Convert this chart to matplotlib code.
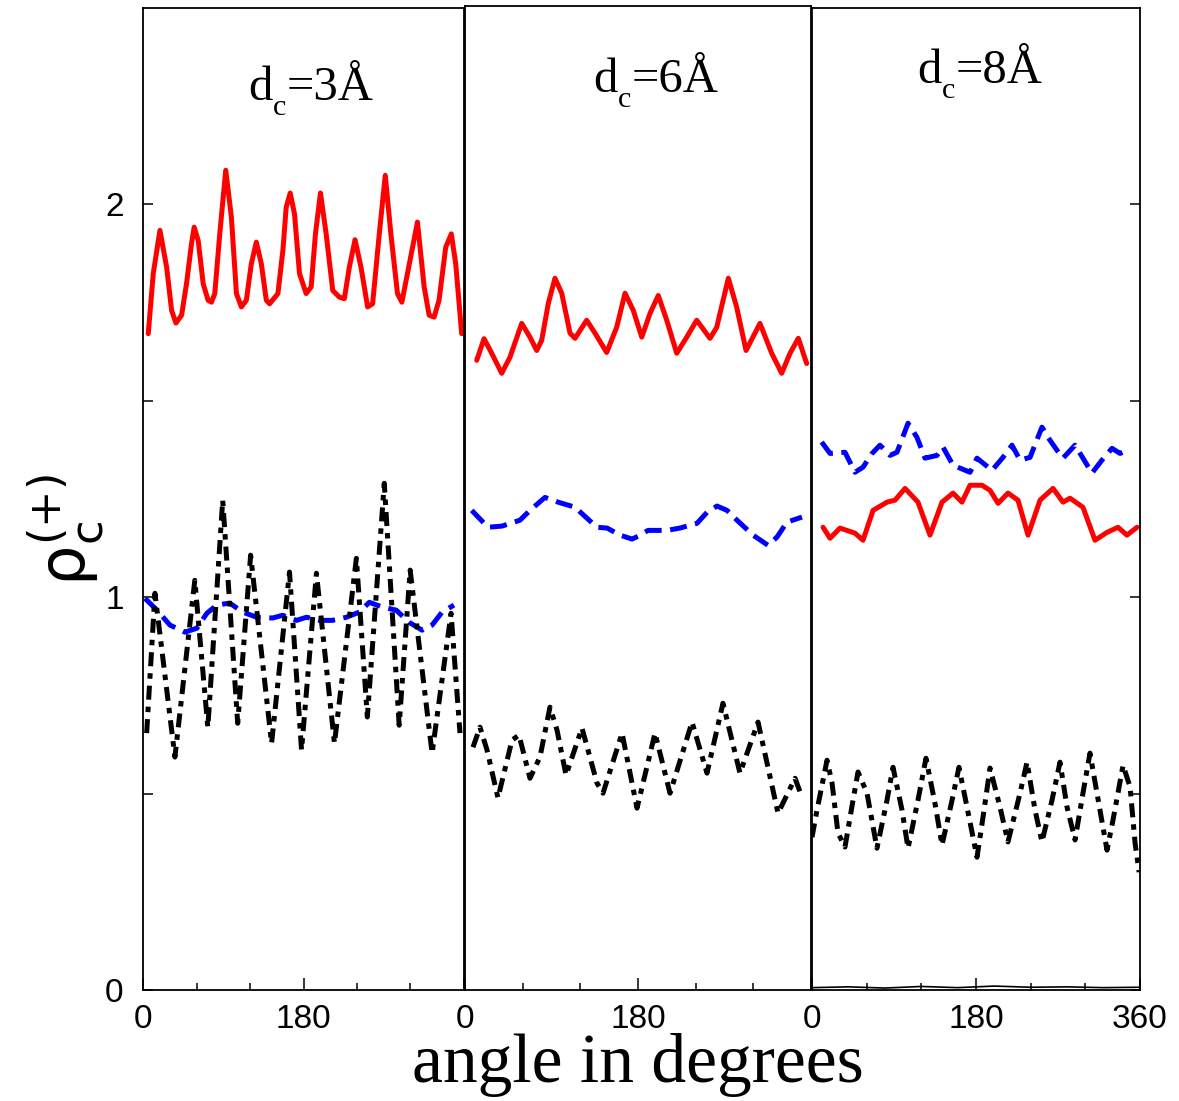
import matplotlib
matplotlib.use("Agg")
import matplotlib.pyplot as plt
from matplotlib.ticker import FixedLocator
from matplotlib.transforms import IdentityTransform

plt.rcParams['mathtext.fontset'] = 'custom'
plt.rcParams['mathtext.rm'] = 'Liberation Serif'
plt.rcParams['mathtext.it'] = 'Liberation Serif:italic'
plt.rcParams['mathtext.sf'] = 'DejaVu Sans'

# ---------------- data (angle in degrees, rho) ----------------
# Panel 1: d_c = 3 A
p1_red_x = [5.9, 11.5, 19.0, 26.5, 32.1, 36.9, 43.3, 48.8, 54.4, 57.4, 61.9, 67.5, 73.0, 76.8, 80.5,
            86.1, 92.8, 99.1, 104.8, 110.3, 115.9, 121.5, 127.1, 132.7, 138.3, 142.0, 151.3, 156.9,
            160.6, 165.1, 169.9, 175.5, 183.0, 188.6, 193.4, 199.0, 205.4, 212.8, 220.2, 225.8,
            231.4, 237.8, 244.5, 251.9, 257.5, 265.0, 271.7, 278.0, 285.4, 290.3, 296.6, 307.8,
            315.3, 320.9, 326.5, 332.0, 339.5, 345.8, 350.7, 357.4]
p1_red_y = [1.671, 1.824, 1.934, 1.840, 1.730, 1.698, 1.718, 1.798, 1.900, 1.942, 1.908, 1.798,
            1.756, 1.751, 1.773, 1.925, 2.087, 1.968, 1.773, 1.739, 1.756, 1.849, 1.904, 1.849,
            1.756, 1.747, 1.773, 1.883, 1.993, 2.029, 1.976, 1.824, 1.773, 1.790, 1.925, 2.029,
            1.925, 1.781, 1.764, 1.760, 1.840, 1.910, 1.840, 1.739, 1.747, 1.925, 2.074, 1.925,
            1.773, 1.751, 1.824, 1.955, 1.790, 1.718, 1.713, 1.756, 1.891, 1.925, 1.849, 1.671]

p1_blue_x = [2.2, 15.7, 30.2, 47.0, 60.4, 71.6, 82.7, 97.3, 111.8, 127.5, 145.3, 156.5, 172.2, 183.4,
             197.9, 212.4, 228.1, 242.6, 253.8, 268.3, 284.0, 298.5, 313.0, 324.2, 335.4, 348.8]
p1_blue_y = [0.997, 0.967, 0.929, 0.911, 0.921, 0.959, 0.980, 0.985, 0.962, 0.949, 0.947, 0.954,
             0.941, 0.949, 0.941, 0.941, 0.949, 0.962, 0.987, 0.975, 0.967, 0.936, 0.916, 0.929,
             0.962, 0.980]

p1_black_x = [4.1, 13.4, 35.8, 58.1, 72.7, 89.4, 106.2, 120.7, 144.2, 164.3, 177.8, 194.5, 214.7,
              239.3, 251.6, 270.6, 287.3, 299.6, 324.2, 345.5, 355.5]
p1_black_y = [0.654, 1.01, 0.593, 1.043, 0.669, 1.247, 0.679, 1.107, 0.628, 1.064, 0.611, 1.061,
              0.628, 1.099, 0.695, 1.29, 0.674, 1.069, 0.603, 0.959, 0.654]

# Panel 2: d_c = 6 A
p2_red_x = [12.2, 19.8, 27.8, 38.2, 46.8, 59.0, 67.6, 74.6, 79.8, 86.7, 93.6, 100.6, 109.3, 114.5,
            126.6, 135.3, 147.4, 157.8, 166.5, 175.1, 183.9, 192.6, 201.1, 209.9, 220.3, 230.7,
            241.1, 254.9, 261.9, 274.0, 282.7, 292.4, 306.9, 319.1, 329.5, 338.2, 346.8, 355.5]
p2_red_y = [1.603, 1.658, 1.621, 1.570, 1.611, 1.697, 1.662, 1.628, 1.654, 1.748, 1.812, 1.774,
            1.672, 1.659, 1.705, 1.672, 1.623, 1.687, 1.774, 1.730, 1.662, 1.723, 1.768, 1.705,
            1.621, 1.662, 1.705, 1.659, 1.687, 1.812, 1.738, 1.628, 1.697, 1.621, 1.570, 1.621,
            1.659, 1.595]

p2_blue_x = [7.0, 23.9, 38.5, 57.2, 67.6, 83.2, 96.8, 114.5, 126.9, 137.3, 147.8, 161.3, 173.8,
             180.0, 190.4, 210.2, 223.7, 241.4, 251.8, 262.2, 272.6, 283.0, 299.7, 315.3, 324.6,
             335.0, 350.6]
p2_blue_y = [1.221, 1.178, 1.181, 1.196, 1.221, 1.254, 1.242, 1.229, 1.201, 1.178, 1.176, 1.158,
             1.148, 1.155, 1.170, 1.170, 1.176, 1.188, 1.216, 1.232, 1.221, 1.196, 1.158, 1.132,
             1.153, 1.191, 1.204]

p2_black_x = [8.3, 15.6, 22.9, 34.3, 48.9, 56.2, 67.6, 78.0, 88.4, 95.7, 105.1, 121.7, 137.3, 143.6,
              163.4, 179.0, 197.7, 213.3, 236.2, 251.8, 268.4, 286.1, 304.9, 325.7, 343.4, 350.6]
p2_black_y = [0.618, 0.669, 0.611, 0.489, 0.636, 0.649, 0.539, 0.593, 0.720, 0.662, 0.547, 0.667,
              0.527, 0.501, 0.654, 0.463, 0.654, 0.501, 0.682, 0.552, 0.730, 0.552, 0.682, 0.450,
              0.539, 0.491]

# Panel 3: d_c = 8 A
p3_red_x = [12.1, 19.8, 30.7, 47.2, 56.0, 67.0, 82.3, 91.1, 102.1, 116.3, 129.5, 142.7, 154.8,
            164.6, 173.4, 186.6, 195.4, 204.2, 215.1, 226.1, 237.1, 250.3, 264.5, 275.5, 283.2,
            297.4, 310.6, 323.8, 335.9, 345.7, 356.7]
p3_red_y = [1.178, 1.150, 1.176, 1.163, 1.145, 1.221, 1.242, 1.247, 1.277, 1.242, 1.158, 1.242,
            1.265, 1.242, 1.285, 1.285, 1.272, 1.239, 1.265, 1.247, 1.158, 1.247, 1.277, 1.242,
            1.252, 1.229, 1.145, 1.165, 1.178, 1.158, 1.178]

p3_blue_x = [10.6, 19.8, 36.2, 47.2, 56.0, 65.9, 74.6, 85.6, 93.3, 105.4, 115.2, 124.0, 137.2,
             143.8, 154.8, 173.4, 181.1, 197.6, 209.6, 219.5, 228.3, 239.3, 252.4, 259.0, 268.9,
             275.5, 288.7, 297.4, 307.3, 318.3, 329.3, 338.1, 346.8]
p3_blue_y = [1.395, 1.366, 1.369, 1.318, 1.331, 1.366, 1.387, 1.361, 1.369, 1.443, 1.407, 1.354,
             1.361, 1.382, 1.336, 1.318, 1.354, 1.323, 1.356, 1.387, 1.349, 1.356, 1.433, 1.407,
             1.374, 1.354, 1.387, 1.354, 1.316, 1.349, 1.379, 1.366, 1.374]

p3_black_x = [0.0, 5.5, 16.5, 22.0, 28.5, 36.2, 45.0, 50.5, 60.4, 71.3, 82.3, 88.9, 98.8, 105.4,
              116.3, 125.1, 135.0, 142.7, 153.7, 161.3, 170.1, 181.1, 187.7, 195.4, 206.3, 215.1,
              228.3, 236.0, 244.8, 252.4, 263.4, 272.2, 279.9, 288.7, 297.4, 305.1, 312.8, 323.8,
              330.4, 341.4, 349.1, 354.6, 359.0]
p3_black_y = [0.389, 0.458, 0.585, 0.527, 0.400, 0.364, 0.483, 0.555, 0.501, 0.361, 0.483, 0.567,
              0.458, 0.361, 0.483, 0.590, 0.475, 0.369, 0.483, 0.567, 0.466, 0.338, 0.440, 0.565,
              0.466, 0.377, 0.501, 0.580, 0.458, 0.377, 0.483, 0.580, 0.466, 0.382, 0.501, 0.603,
              0.501, 0.356, 0.433, 0.572, 0.517, 0.374, 0.300]

p3_base_x = [0, 40, 80, 120, 160, 200, 240, 280, 320, 360]
p3_base_y = [0.006, 0.008, 0.005, 0.009, 0.006, 0.010, 0.007, 0.008, 0.006, 0.007]

titles = ["3", "6", "8"]
xticklabels = [["0", "180", ""], ["0", "180", ""], ["0", "180", "360"]]
yticks = [0, 1, 2]

# ---------------- figure ----------------
W, H = 1179, 1101
fig = plt.figure(figsize=(W / 100, H / 100), dpi=100)
renderer = fig.canvas.get_renderer()

def ax_rect(left, right, top, bottom=990):
    return [left / W, (H - bottom) / H, (right - left) / W, (bottom - top) / H]

axes = [fig.add_axes(ax_rect(143, 464, 8)),
        fig.add_axes(ax_rect(465, 811, 6)),
        fig.add_axes(ax_rect(812, 1140, 8))]
ytops = [2.5, 2.505, 2.5]

red_kw = dict(color='#ff0000', lw=3.6, solid_capstyle='round', solid_joinstyle='round')
blue_kw = dict(color='#0000ff', lw=3.6, dashes=(3.4, 1.7), dash_capstyle='butt',
               dash_joinstyle='round')
black_kw = dict(color='black', lw=3.6, dashes=(2.8, 1.4, 1.1, 1.4), dash_capstyle='butt',
                dash_joinstyle='round')

series = [
    (p1_red_x, p1_red_y, p1_blue_x, p1_blue_y, p1_black_x, p1_black_y),
    (p2_red_x, p2_red_y, p2_blue_x, p2_blue_y, p2_black_x, p2_black_y),
    (p3_red_x, p3_red_y, p3_blue_x, p3_blue_y, p3_black_x, p3_black_y),
]

for i, ax in enumerate(axes):
    rx, ry, bx, by, kx, ky = series[i]
    ax.plot(rx, ry, **red_kw)
    ax.plot(bx, by, **blue_kw)
    ax.plot(kx, ky, **black_kw)
    if i == 2:
        ax.plot(p3_base_x, p3_base_y, color='black', lw=1.2)
    ax.set_xlim(0, 360)
    ax.set_ylim(0, ytops[i])
    for s in ax.spines.values():
        s.set_linewidth(1.3)
        s.set_color('black')
    ax.xaxis.set_major_locator(FixedLocator([0, 180, 360]))
    ax.xaxis.set_minor_locator(FixedLocator([60, 120, 240, 300]))
    ax.set_xticklabels(xticklabels[i], fontfamily='Liberation Sans', fontsize=24)
    ax.tick_params(axis='x', which='major', direction='in', length=9, width=1.1, pad=10,
                   top=False, bottom=True)
    ax.tick_params(axis='x', which='minor', direction='in', length=5, width=1.1,
                   top=False, bottom=True)
    ax.yaxis.set_major_locator(FixedLocator([0, 1, 2]))
    ax.yaxis.set_minor_locator(FixedLocator([0.5, 1.5]))
    if i == 0:
        ax.set_yticklabels([str(v) for v in yticks], fontfamily='Liberation Sans', fontsize=24)
        ax.tick_params(axis='y', which='both', direction='in', left=True, right=False,
                       length=7, width=1.1, pad=14)
    elif i == 1:
        ax.tick_params(axis='y', which='both', left=False, right=False, labelleft=False)
    else:
        ax.tick_params(axis='y', which='both', direction='in', left=False, right=True,
                       labelleft=False, labelright=False, length=7, width=1.1)

# panel titles: "d" + lowered subscript "c" + "=nÅ"
title_centers = [(311, 100), (656, 92), (980, 83)]

def comp_title(cx, base_top, digit, fs=35):
    yb = H - base_top
    parts = [('d', fs, 0), ('c', fs * 0.62, -15), ('=' + digit + 'Å', fs, 0)]
    placed = []
    x = 0.0
    for s, f, dy in parts:
        t = fig.text(0, yb + dy, s, transform=IdentityTransform(), fontsize=f,
                     fontfamily='Liberation Serif', ha='left', va='baseline')
        w = t.get_window_extent(renderer).width
        placed.append((t, x))
        x += w
    start = cx - x / 2
    for t, off in placed:
        t.set_x(start + off)

for (cx, by), d in zip(title_centers, titles):
    comp_title(cx, by, d)

fig.text(638 / W, (H - 1082) / H, 'angle in degrees', ha='center', va='baseline',
         fontfamily='Liberation Serif', fontsize=50)
fig.text(66 / W, (H - 530) / H, r'$\mathsf{\rho_c^{(+)}}$', rotation=90, ha='center',
         va='center', fontsize=46, fontfamily='DejaVu Sans')

fig.savefig('out.png', dpi=100)
